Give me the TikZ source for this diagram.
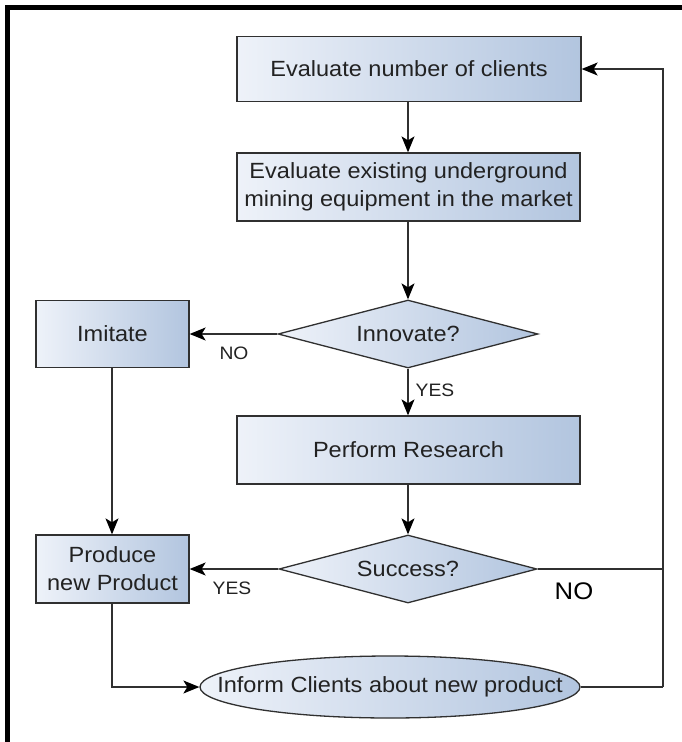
\documentclass[tikz,border=0pt]{standalone}
\usepackage{fontspec}
\setmainfont{Liberation Sans}[FakeStretch=1.07]
\usetikzlibrary{shapes.geometric,arrows.meta}

\definecolor{fillL}{HTML}{EEF2F9}
\definecolor{fillR}{HTML}{B2C5DF}
\definecolor{edge}{HTML}{303030}
\definecolor{ink}{HTML}{222222}

\tikzset{
  box/.style={rectangle, draw=edge, line width=1.3pt, left color=fillL, right color=fillR,
              text=ink, font=\fontsize{22}{28}\selectfont, align=center, inner sep=2pt},
  decision/.style={diamond, aspect=3.8, draw=edge, line width=1.3pt, left color=fillL, right color=fillR,
              text=ink, font=\fontsize{22}{26}\selectfont, inner sep=0pt},
  terminal/.style={ellipse, draw=edge, line width=1.3pt, left color=fillL, right color=fillR,
              text=ink, font=\fontsize{22}{26}\selectfont, inner xsep=-40pt, inner ysep=-3pt},
  flow/.style={draw=edge, line width=1.3pt,
               -{Stealth[length=16pt,width=13pt,inset=4pt,color=black]}},
  plain/.style={draw=edge, line width=1.3pt},
  tag/.style={text=ink, font=\fontsize{18}{20}\selectfont, inner sep=0pt},
}

\begin{document}
\begin{tikzpicture}[x=1pt,y=-1pt]
\useasboundingbox (0,0) rectangle (682,742);
\fill[white] (0,0) rectangle (682,742);

% frame on the top and left side
\draw[line width=5pt] (7,742) -- (7,7) -- (682,7);

% process steps
\node[box, minimum width=344pt, minimum height=65pt] (clients) at (409,69) {Evaluate number of clients};
\node[box, minimum width=343pt, minimum height=68pt] (equip) at (408.5,187)
  {Evaluate existing underground\\mining equipment in the market};
\node[decision, minimum width=260pt, minimum height=68pt] (innov) at (408,334) {Innovate?};
\node[box, minimum width=153pt, minimum height=67pt] (imit) at (112.5,334) {Imitate};
\node[box, minimum width=343pt, minimum height=68pt] (research) at (408.5,450) {Perform Research};
\node[decision, minimum width=258pt, minimum height=68pt] (succ) at (408,569) {Success?};
\node[box, minimum width=153pt, minimum height=68pt] (prod) at (112.5,569) {Produce\\new Product};
\node[terminal, minimum width=380pt, minimum height=62pt] (inform) at (390,687) {Inform Clients about new product};

% loop-back corners
\coordinate (rtop) at (663,69);
\coordinate (rmid) at (663,569);
\coordinate (rbot) at (663,687);

% connectors
\draw[flow] (clients.south -| 408,0) -- (equip.north -| 408,0);
\draw[flow] (equip.south -| 408,0) -- (innov.north);
\draw[flow] (innov.west) -- (imit.east |- innov.west);
\draw[flow] (innov.south) -- (research.north -| innov.south);
\draw[flow] (research.south -| succ.north) -- (succ.north);
\draw[flow] (succ.west) -- (prod.east |- succ.west);
\draw[flow] (imit.south -| 112,0) -- (prod.north -| 112,0);
\draw[flow] (prod.south -| 112,0) |- (inform.west);
\draw[plain] (succ.east) -- (rmid);
\draw[plain] (inform.east) -- (rbot);
\draw[flow] (rbot) -- (rtop) -- (clients.east);

% branch labels
\node[tag] (noA) at (234,353) {NO};
\node[tag] (yesA) at (435,390) {YES};
\node[tag] (yesB) at (232,588) {YES};
\node[tag, font=\fontsize{24}{26}\selectfont, text=black] (noB) at (574,591) {NO};
\end{tikzpicture}
\end{document}
